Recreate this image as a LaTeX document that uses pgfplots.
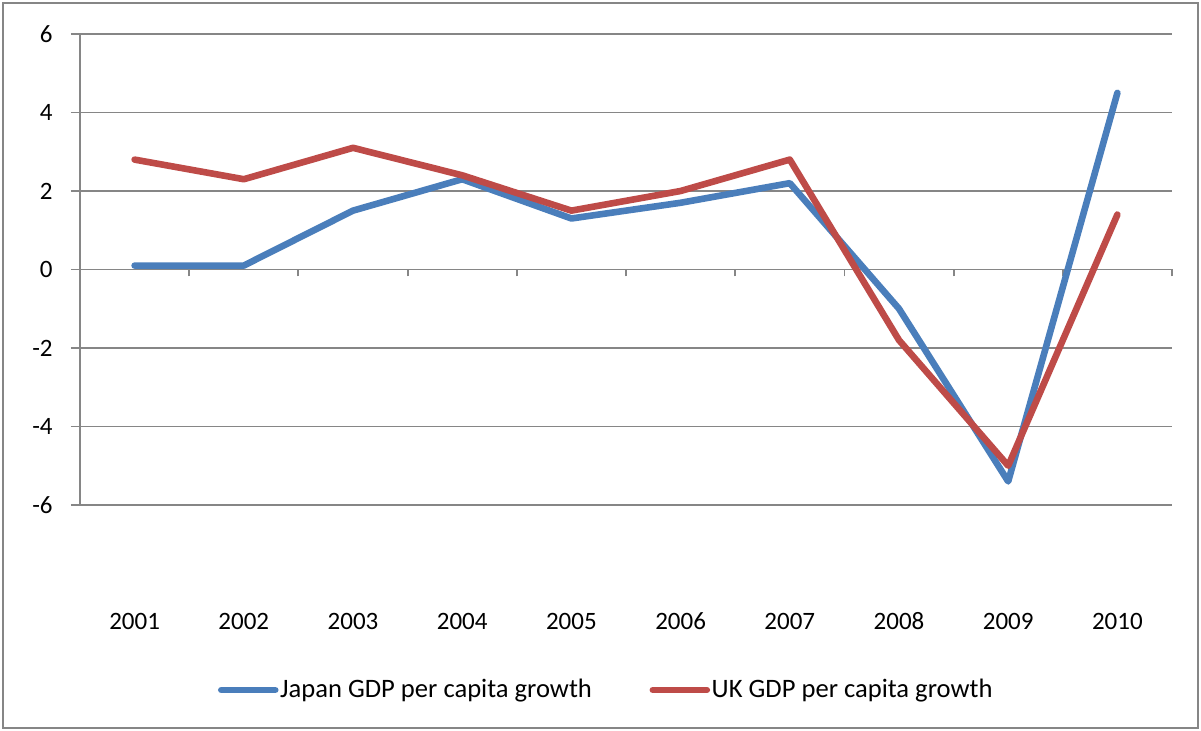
\documentclass[border=0pt]{standalone}
\usepackage{pgfplots}
\pgfplotsset{compat=1.18}
\usepackage{fontspec}
\setmainfont{Carlito}
\definecolor{jpblue}{HTML}{4A7EBB}
\definecolor{ukred}{HTML}{BE4B48}
\definecolor{gridgray}{HTML}{868686}
\begin{document}
\begin{tikzpicture}
\useasboundingbox (-40pt,-113pt) rectangle (560.5pt,252.5pt);
\draw[gridgray, line width=1pt] (-38.5pt,-111.5pt) rectangle (559pt,251pt);
\begin{axis}[
  at={(0,0)}, anchor=south west,
  scale only axis, width=546pt, height=235.5pt,
  xmin=0.5, xmax=10.5, ymin=-6, ymax=6,
  axis y line=left, axis x line=middle,
  axis line style={-, gridgray, line width=0.9pt},
  ymajorgrids, grid style={gridgray, line width=0.9pt},
  ytick={-6,-4,-2,0,2,4,6}, yticklabels={-6,-4,-2,0,2,4,6},
  xtick={1,2,3,4,5,6,7,8,9,10},
  xticklabels={2001,2002,2003,2004,2005,2006,2007,2008,2009,2010},
  minor xtick={0.5,1.5,2.5,3.5,4.5,5.5,6.5,7.5,8.5,9.5,10.5},
  tick align=center,
  major tick length=9pt,
  minor tick length=3.5pt,
  major x tick style={draw=none},
  minor x tick style={gridgray, line width=0.9pt, yshift=-1.75pt},
  y tick style={gridgray, line width=0.9pt},
  tick label style={font=\fontsize{12.5}{15}\selectfont, text=black},
  yticklabel style={inner sep=0pt, anchor=east, xshift=-9pt},
  xticklabel style={anchor=north, text height=8pt, text depth=0pt, yshift=-164pt},
  legend style={draw=none, fill=none, at={(0.4817,-0.3928)}, anchor=center,
    font=\fontsize{13.3}{16}\selectfont, nodes={inner sep=0.8pt},
    /tikz/every even column/.append style={column sep=28pt}},
  legend columns=2,
  legend cell align=left,
  legend image code/.code={\draw[#1, line cap=round] (0pt,0pt) -- (27pt,0pt);},
]
\addplot[jpblue, line width=3.3pt, line join=round, line cap=round] coordinates {
  (1,0.1) (2,0.1) (3,1.5) (4,2.3) (5,1.3) (6,1.7) (7,2.2) (8,-1.0) (9,-5.4) (10,4.5)};
\addlegendentry{Japan GDP per capita growth}
\addplot[ukred, line width=3.3pt, line join=round, line cap=round] coordinates {
  (1,2.8) (2,2.3) (3,3.1) (4,2.4) (5,1.5) (6,2.0) (7,2.8) (8,-1.8) (9,-5.0) (10,1.4)};
\addlegendentry{UK GDP per capita growth}
\end{axis}
\end{tikzpicture}
\end{document}
